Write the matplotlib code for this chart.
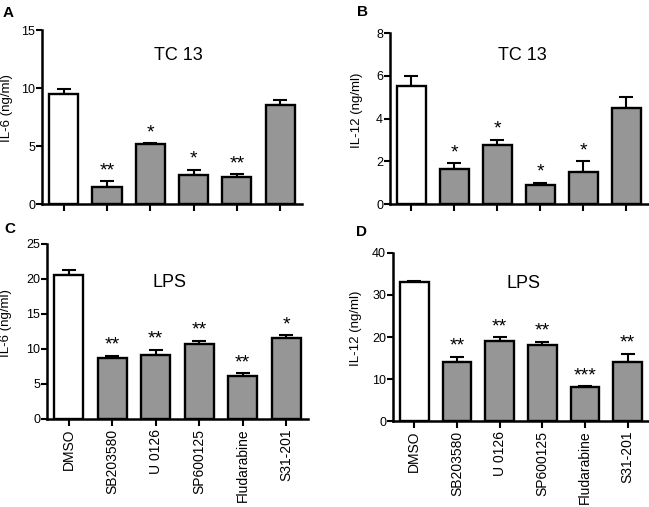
import numpy as np
import matplotlib.pyplot as plt

plt.rcParams['font.family'] = ['Liberation Sans', 'DejaVu Sans']

# Data
treatments = ['DMSO', 'SB203580', 'U 0126', 'SP600125', 'Fludarabine', 'S31-201']

il6_tc13 = [9.5, 1.5, 5.15, 2.5, 2.3, 8.5]
il6_tc13_err = [0.45, 0.45, 0.1, 0.45, 0.25, 0.5]
il6_tc13_sig = ['', '**', '*', '*', '**', '']

il12_tc13 = [5.5, 1.65, 2.75, 0.9, 1.5, 4.5]
il12_tc13_err = [0.5, 0.25, 0.25, 0.1, 0.5, 0.5]
il12_tc13_sig = ['', '*', '*', '*', '*', '']

il6_lps = [20.5, 8.7, 9.1, 10.7, 6.1, 11.5]
il6_lps_err = [0.8, 0.35, 0.8, 0.45, 0.45, 0.45]
il6_lps_sig = ['', '**', '**', '**', '**', '*']

il12_lps = [33.0, 14.0, 19.0, 18.0, 8.0, 14.0]
il12_lps_err = [0.35, 1.3, 1.0, 0.9, 0.3, 2.0]
il12_lps_sig = ['', '**', '**', '**', '***', '**']

GRAY = '#969696'


def draw_panel(ax, vals, errs, sig, ymax, step, ylabel, title, title_xy,
               letter, letter_xy, ylab_x, show_names):
    x = np.arange(len(vals))
    colors = ['white'] + [GRAY] * (len(vals) - 1)
    ax.bar(x, vals, width=0.67, color=colors, edgecolor='black',
           linewidth=1.7, zorder=2)
    ax.errorbar(x, vals, yerr=[np.zeros(len(errs)), errs], fmt='none',
                ecolor='black', elinewidth=1.5, capsize=5, capthick=1.5,
                zorder=1)
    off = ymax * 0.012
    for xi, v, e, s in zip(x, vals, errs, sig):
        if s:
            ax.text(xi, v + e + off, s, ha='center', va='bottom',
                    fontsize=14)

    ax.set_xlim(-0.5, 5.5)
    ax.set_ylim(0, ymax)
    ax.set_yticks(np.arange(0, ymax + 0.01, step))
    ax.set_xticks(x)
    if show_names:
        ax.set_xticklabels(treatments, rotation=90, fontsize=10)
    else:
        ax.set_xticklabels([])
    ax.tick_params(axis='y', labelsize=9, width=1.5, length=4, pad=1)
    ax.tick_params(axis='x', width=1.5, length=5, pad=2)
    for side in ['top', 'right']:
        ax.spines[side].set_visible(False)
    for side in ['left', 'bottom']:
        ax.spines[side].set_linewidth(1.8)
    ax.set_ylabel(ylabel, fontsize=9.5)
    ax.yaxis.set_label_coords(ylab_x, 0.55)
    ax.text(title_xy[0], title_xy[1], title, transform=ax.transAxes,
            ha='center', va='center', fontsize=13)
    ax.figure.text(letter_xy[0], letter_xy[1], letter, fontsize=11,
                   fontweight='bold', ha='center', va='center')


fig = plt.figure(figsize=(6.49, 5.07), dpi=100)

axA = fig.add_axes([0.0647, 0.5976, 0.4006, 0.3432])
axB = fig.add_axes([0.6009, 0.5976, 0.3975, 0.3373])
axC = fig.add_axes([0.0724, 0.1736, 0.4022, 0.3452])
axD = fig.add_axes([0.6055, 0.1696, 0.3945, 0.3314])

draw_panel(axA, il6_tc13, il6_tc13_err, il6_tc13_sig, 15, 5, 'IL-6 (ng/ml)',
           'TC 13', (0.523, 0.856), 'A', (0.0123, 0.974), -0.11, False)
draw_panel(axB, il12_tc13, il12_tc13_err, il12_tc13_sig, 8, 2, 'IL-12 (ng/ml)',
           'TC 13', (0.515, 0.871), 'B', (0.558, 0.976), -0.105, False)
draw_panel(axC, il6_lps, il6_lps_err, il6_lps_sig, 25, 5, 'IL-6 (ng/ml)',
           'LPS', (0.471, 0.777), 'C', (0.0154, 0.548), -0.135, True)
draw_panel(axD, il12_lps, il12_lps_err, il12_lps_sig, 40, 10, 'IL-12 (ng/ml)',
           'LPS', (0.508, 0.82), 'D', (0.557, 0.542), -0.12, True)

fig.savefig('out.png', dpi=100)
